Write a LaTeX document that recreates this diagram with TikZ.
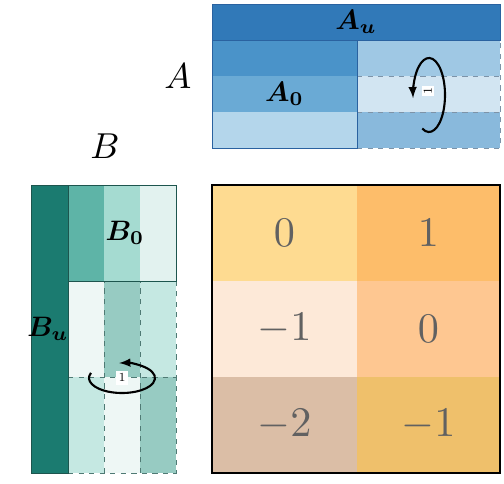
\documentclass[tikz,border=0pt]{standalone}
\usepackage{amsmath}
\usepackage{xcolor}
\usepackage{tikz}
\usetikzlibrary{arrows}

\definecolor{auband}{HTML}{3179B8}
\definecolor{aleftA}{HTML}{4A93C9}
\definecolor{aleftB}{HTML}{6AAAD5}
\definecolor{aleftC}{HTML}{B4D6EB}
\definecolor{arightA}{HTML}{9FC8E4}
\definecolor{arightB}{HTML}{D2E5F2}
\definecolor{arightC}{HTML}{89B9DC}
\definecolor{aline}{HTML}{2A62A0}
\definecolor{adash}{HTML}{7D93A8}

\definecolor{buband}{HTML}{1B7B70}
\definecolor{btopA}{HTML}{5EB4A7}
\definecolor{btopB}{HTML}{A5DBD1}
\definecolor{btopC}{HTML}{E2F2EF}
\definecolor{blowA}{HTML}{EEF7F5}
\definecolor{blowB}{HTML}{97CBC2}
\definecolor{blowC}{HTML}{C5E8E2}
\definecolor{bline}{HTML}{1D554E}
\definecolor{bdash}{HTML}{4F7A74}

\definecolor{cellA}{HTML}{FEDB91}
\definecolor{cellB}{HTML}{FDBD6A}
\definecolor{cellC}{HTML}{FDE9D8}
\definecolor{cellD}{HTML}{FEC791}
\definecolor{cellE}{HTML}{DBBEA6}
\definecolor{cellF}{HTML}{EFC06B}

\begin{document}
\begin{tikzpicture}

	\useasboundingbox (0,0) rectangle (10.08,9.66);

	% matrix A
	\fill[auband] (4.24,8.86) rectangle (10,9.58);
	\fill[aleftA] (4.24,8.14) rectangle (7.14,8.86);
	\fill[aleftB] (4.24,7.42) rectangle (7.14,8.14);
	\fill[aleftC] (4.24,6.70) rectangle (7.14,7.42);
	\fill[arightA] (7.14,8.14) rectangle (10,8.86);
	\fill[arightB] (7.14,7.42) rectangle (10,8.14);
	\fill[arightC] (7.14,6.70) rectangle (10,7.42);
	\draw[adash, dashed] (7.14,8.14) -- (10,8.14);
	\draw[adash, dashed] (7.14,7.42) -- (10,7.42);
	\draw[adash, dashed] (7.14,6.70) -- (10,6.70) -- (10,8.86);
	\draw[aline] (4.24,8.86) rectangle (10,9.58);
	\draw[aline] (4.24,6.70) rectangle (7.14,8.86);

	\node[scale=2.05] (labA) at (3.56,8.14) {$A$};
	\node[scale=1.6] (au) at (7.12,9.22) {$\boldsymbol{A_u}$};
	\node[scale=1.6] (a0) at (5.69,7.78) {$\boldsymbol{A_0}$};

	\draw[line width=1.2pt, -latex] (8.58,7.76) ++(-115:0.32 and 0.74) arc [start angle=-115, end angle=185, x radius=0.32, y radius=0.74];
	\node[fill=white, inner sep=1pt, rotate=90] (rotA) at (8.56,7.84) {\scriptsize $1$};

	% matrix B
	\fill[buband] (0.62,0.20) rectangle (1.36,5.96);
	\fill[btopA] (1.36,4.04) rectangle (2.08,5.96);
	\fill[btopB] (2.08,4.04) rectangle (2.80,5.96);
	\fill[btopC] (2.80,4.04) rectangle (3.52,5.96);
	\fill[blowA] (1.36,2.12) rectangle (2.08,4.04);
	\fill[blowB] (2.08,2.12) rectangle (2.80,4.04);
	\fill[blowC] (2.80,2.12) rectangle (3.52,4.04);
	\fill[blowC] (1.36,0.20) rectangle (2.08,2.12);
	\fill[blowA] (2.08,0.20) rectangle (2.80,2.12);
	\fill[blowB] (2.80,0.20) rectangle (3.52,2.12);
	\draw[bdash, dashed] (2.08,0.20) -- (2.08,4.04);
	\draw[bdash, dashed] (2.80,0.20) -- (2.80,4.04);
	\draw[bdash, dashed] (1.36,2.12) -- (3.52,2.12);
	\draw[bdash, dashed] (1.36,0.20) -- (3.52,0.20) -- (3.52,4.04);
	\draw[bline] (0.62,0.20) rectangle (1.36,5.96);
	\draw[bline] (1.36,4.04) rectangle (3.52,5.96);

	\node[scale=2.05] (labB) at (2.10,6.74) {$B$};
	\node[scale=1.6] (b0) at (2.50,5.00) {$\boldsymbol{B_0}$};
	\node[scale=1.6] (bu) at (0.96,3.08) {$\boldsymbol{B_u}$};

	\draw[line width=1.2pt, -latex] (2.44,2.10) ++(160:0.66 and 0.30) arc [start angle=160, end angle=455, x radius=0.66, y radius=0.30];
	\node[fill=white, inner sep=1.5pt] (rotB) at (2.44,2.10) {\scriptsize $1$};

	% matrix C
	\fill[cellA] (4.24,4.04) rectangle (7.14,5.96);
	\fill[cellB] (7.14,4.04) rectangle (10,5.96);
	\fill[cellC] (4.24,2.12) rectangle (7.14,4.04);
	\fill[cellD] (7.14,2.12) rectangle (10,4.04);
	\fill[cellE] (4.24,0.20) rectangle (7.14,2.12);
	\fill[cellF] (7.14,0.20) rectangle (10,2.12);
	\draw[line width=0.9pt] (4.24,0.20) rectangle (10,5.96);

	\node[text=black!62, scale=2.4] (c11) at (5.69,5.00) {$0$};
	\node[text=black!62, scale=2.4] (c12) at (8.57,5.00) {$1$};
	\node[text=black!62, scale=2.4] (c21) at (5.69,3.08) {$-1$};
	\node[text=black!62, scale=2.4] (c22) at (8.57,3.08) {$0$};
	\node[text=black!62, scale=2.4] (c31) at (5.69,1.16) {$-2$};
	\node[text=black!62, scale=2.4] (c32) at (8.57,1.16) {$-1$};
\end{tikzpicture}
\end{document}
